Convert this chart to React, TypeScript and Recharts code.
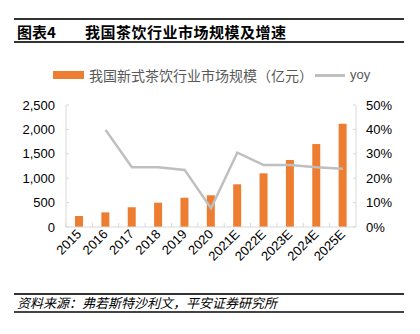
import React from "react";
import {
  ComposedChart,
  Bar,
  Line,
  XAxis,
  YAxis,
} from "recharts";

const years = ["2015", "2016", "2017", "2018", "2019", "2020", "2021E", "2022E", "2023E", "2024E", "2025E"];
const marketSize = [225, 300, 403, 498, 600, 650, 875, 1100, 1373, 1700, 2117];
const yoy = [null, 39.8, 24.5, 24.5, 23.4, 7.7, 30.5, 25.4, 25.4, 24.5, 23.9];
const leftTicks = [0, 500, 1000, 1500, 2000, 2500];
const rightTicks = [0, 10, 20, 30, 40, 50];

const barName = "我国新式茶饮行业市场规模（亿元）";
const lineName = "yoy";

const data = years.map((year, i) => ({ year, size: marketSize[i], yoy: yoy[i] }));

const ORANGE = "#ED7D31";
const GRAY_LINE = "#BFBFBF";
const AXIS = "#D9D9D9";
const FONT = "'Liberation Sans', Arial, 'Noto Sans CJK SC', sans-serif";
const BAND = 290 / years.length;

function XTick(props: any) {
  const { x, y, payload } = props;
  return (
    <g>
      <line x1={x - BAND / 2} y1={y} x2={x - BAND / 2} y2={y - 4} stroke={AXIS} />
      <text
        x={x + 3}
        y={y + 8}
        textAnchor="end"
        transform={`rotate(-45, ${x + 3}, ${y + 8})`}
        fontSize={13}
        fontFamily={FONT}
        fill="#000"
      >
        {payload.value}
      </text>
    </g>
  );
}

export default function App() {
  return (
    <div
      style={{
        position: "absolute",
        top: 0,
        left: 0,
        width: 420,
        height: 334,
        background: "#fff",
        fontFamily: FONT,
      }}
    >
      {/* header */}
      <div style={{ position: "absolute", left: 14, top: 18, width: 390, height: 2, background: "#333" }} />
      <div
        style={{
          position: "absolute",
          left: 17,
          top: 22,
          fontSize: 15,
          fontWeight: "bold",
          fontFamily: "'Noto Sans CJK SC', sans-serif",
          color: "#000",
          lineHeight: "20px",
          whiteSpace: "nowrap",
        }}
      >
        <span>图表4</span>
        <span style={{ position: "absolute", left: 68, letterSpacing: 0.5 }}>我国茶饮行业市场规模及增速</span>
      </div>
      <div style={{ position: "absolute", left: 14, top: 41, width: 390, height: 2, background: "#333" }} />

      {/* legend */}
      <div style={{ position: "absolute", left: 53, top: 71, width: 31, height: 8, background: ORANGE }} />
      <div
        style={{
          position: "absolute",
          left: 89,
          top: 65,
          fontSize: 14,
          lineHeight: "20px",
          color: "#595959",
          fontFamily: "'Noto Sans CJK SC', sans-serif",
          whiteSpace: "nowrap",
        }}
      >
        {barName}
      </div>
      <div style={{ position: "absolute", left: 315, top: 74, width: 30, height: 3, background: GRAY_LINE }} />
      <div
        style={{
          position: "absolute",
          left: 350,
          top: 65,
          fontSize: 13,
          lineHeight: "20px",
          color: "#595959",
          fontFamily: FONT,
        }}
      >
        {lineName}
      </div>

      {/* chart */}
      <div style={{ position: "absolute", left: 0, top: 55 }}>
        <ComposedChart
          width={420}
          height={235}
          data={data}
          margin={{ top: 50, right: 10, left: 0, bottom: 0 }}
        >
          <XAxis
            dataKey="year"
            xAxisId="x"
            stroke={AXIS}
            tickLine={false}
            tickSize={0}
            tickMargin={0}
            height={63}
            interval={0}
            tick={<XTick />}
          />
          <YAxis
            yAxisId="left"
            orientation="left"
            width={66}
            domain={[0, 2500]}
            ticks={leftTicks}
            stroke={AXIS}
            tickSize={-3}
            tickMargin={14}
            tickFormatter={(v: number) => v.toLocaleString("en-US")}
            tick={{ fontSize: 13, fill: "#000", fontFamily: FONT }}
          />
          <YAxis
            yAxisId="right"
            orientation="right"
            width={54}
            domain={[0, 50]}
            ticks={rightTicks}
            stroke={AXIS}
            tickSize={-3}
            tickMargin={13}
            tickFormatter={(v: number) => `${v}%`}
            tick={{ fontSize: 13, fill: "#000", fontFamily: FONT }}
          />
          <Bar
            dataKey="size"
            name={barName}
            xAxisId="x"
            yAxisId="left"
            fill={ORANGE}
            barSize={8}
            isAnimationActive={false}
          />
          <Line
            dataKey="yoy"
            name={lineName}
            xAxisId="x"
            yAxisId="right"
            type="linear"
            stroke={GRAY_LINE}
            strokeWidth={2.5}
            dot={false}
            activeDot={false}
            isAnimationActive={false}
          />
        </ComposedChart>
      </div>

      {/* footer */}
      <div style={{ position: "absolute", left: 14, top: 293, width: 390, height: 1.5, background: "#333" }} />
      <div
        style={{
          position: "absolute",
          left: 17,
          top: 294,
          fontSize: 13,
          fontStyle: "italic",
          lineHeight: "17px",
          color: "#000",
          fontFamily: "'Noto Sans CJK SC', sans-serif",
          whiteSpace: "nowrap",
        }}
      >
        资料来源：弗若斯特沙利文，平安证券研究所
      </div>
      <div style={{ position: "absolute", left: 14, top: 311, width: 390, height: 2, background: "#444" }} />
    </div>
  );
}
